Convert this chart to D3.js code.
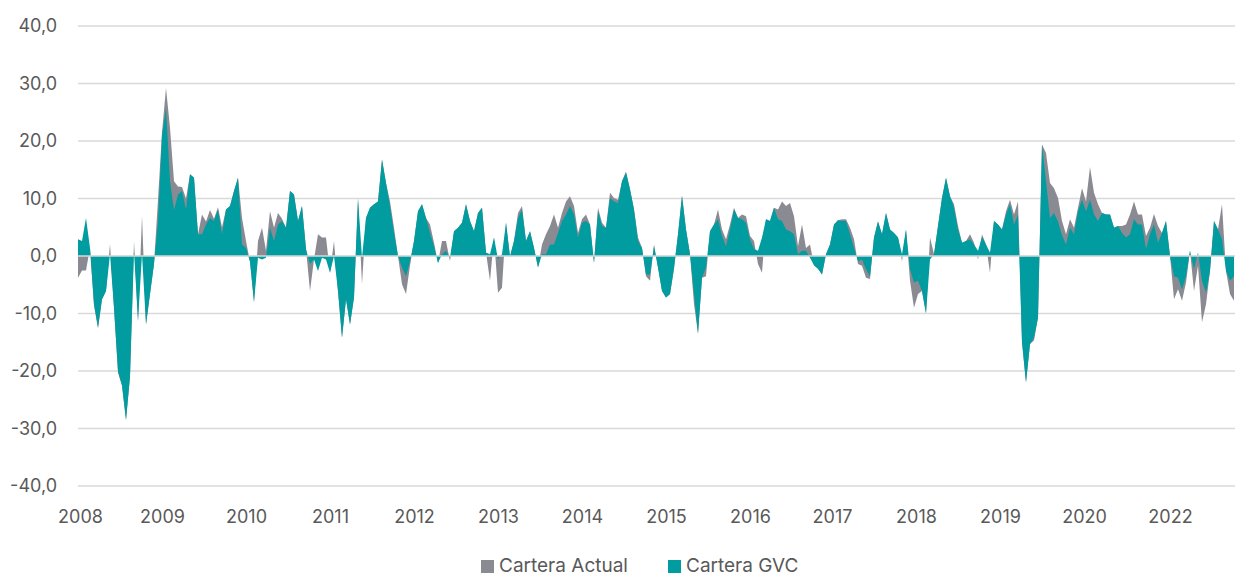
<!DOCTYPE html>
<html>
<head>
<meta charset="utf-8">
<script src="https://cdn.jsdelivr.net/npm/d3@7"></script>
<style>
  body { margin: 0; background: #ffffff; }
  svg { display: block; }
  text { font-family: Inter, "Open Sans", Lato, sans-serif; }
</style>
</head>
<body>
<svg id="chart" width="1235" height="577"></svg>
<script>
// Year labels on the horizontal axis and the observation each one sits on
const yearLabels = ["2008","2009","2010","2011","2012","2013","2014","2015","2016","2017","2018","2019","2020","2022"];
const yearIndex  = [0.5, 21, 42, 63, 84, 105, 126, 147, 168, 188.5, 209.5, 230.5, 251.5, 273];

// Value ticks
const yTicks = [-40, -30, -20, -10, 0, 10, 20, 30, 40];

// Series names
const seriesNames = ["Cartera Actual", "Cartera GVC"];

// Cartera GVC (teal)
const carteraGVC = [
  2.9,2.6,6.6,1.4,-8.4,-12.4,-7.5,-6.1,0.3,-9,-20,-22.5,-28.5,-21,0.8,-11.3,0.3,-11.9,-6.6,-1.4,6,21,25.7,13,
  8,10.7,11.3,8.1,14.2,13.6,3.8,3.8,5.5,6.6,6.1,8.1,3.8,8.1,8.7,11.3,13.6,2,1.4,-1,-8,-0.3,-0.6,-0.3,4.9,
  2.6,5.5,6.1,4.9,11.3,10.7,6.1,8.7,1.2,-1.4,-0.6,-2.6,-0.3,-0.6,-2.9,0,-6.1,-14.2,-7.5,-11.9,-7.2,10,-0.3,6.6,
  8.4,9,9.5,16.8,12.7,8.7,4,0,-2,-3.5,-0.9,2.6,7.8,9,6.6,4,1.7,-1.2,0.3,0.9,-0.3,4.3,4.9,5.8,9,
  6.1,4.3,7.5,8.4,0.6,0.3,3.2,-0.6,0.3,5.8,0,2.6,6.6,8.1,2.6,4.3,1.4,-2,0.3,0.3,2,2,4,6.1,
  7.2,8.7,7.2,3.2,5.8,6.1,5.5,-1.2,7.8,5.2,4.9,10.1,9.5,9.2,13,14.5,11.6,8.1,2.6,1.4,-3.2,-3.2,1.7,-2,
  -6.1,-7.2,-6.6,-2,3.8,10.5,4.6,0.3,-6.6,-13.5,-3.8,-2,4.3,5.5,6.4,3.5,1.7,4.6,8.1,6.6,6.4,5.8,2.9,1.2,
  0.9,3.2,6.4,6.1,8.4,6.4,6.1,4.6,4.3,3.8,0.3,0.9,0.9,-0.3,-1.6,-2.2,-3.2,0.3,2,5.5,6.2,6.1,6.1,3.8,
  1.4,-0.9,-0.6,-2.3,-3.5,3.2,6,3.8,7.5,4.6,4,3.2,0.3,4.6,-2.3,-4.6,-4.3,-6.1,-10,-0.6,0.3,5.2,10.1,13.6,10.4,
  8.4,4.6,2.3,2.6,2.9,2,0.9,3.3,2,0.6,6.1,5.5,4.6,7.2,9,5.5,7.2,-15,-22,-15.3,-14.2,-10.7,19.4,13,
  6.6,7.5,6,3.6,2,4.9,3.8,7.8,9.8,7.8,9.8,7.2,6.1,7.5,7.2,7.2,4.9,5.2,4,3.2,3.8,6.4,5.5,5.5,
  1.2,3.8,5.5,2.3,4,6.1,0,-3.5,-3.8,-5.8,-3.5,0.9,-2.3,0.6,-4.3,-6.4,-2.6,6.1,4.6,2.9,-2.6,-4.3,-3.5
];

// Cartera Actual (grey)
const carteraActual = [
  -3.8,-2.5,-2.5,1.4,-8.6,-12.6,-7.5,-6.1,2.1,-9,-20.3,-22.5,-28.5,-21,2.6,-11.3,7,-11.9,-6.6,-1.4,9.8,21.5,29.2,22.3,
  13,12.1,12,10,14.2,13.6,3.8,7.2,6,8,6.5,8.5,5,8.1,8.7,11.3,13.6,6.6,2.6,-1,-8,2.6,4.9,0.9,7.8,
  4.9,7.5,6.5,4.9,11.3,10.7,6.1,8.7,1.2,-6.1,-0.6,3.8,3.2,3.2,-2.9,2.6,-6.1,-14.2,-7.5,-11.9,-7.2,10,-4.9,6.6,
  8.4,9,9.5,16.8,12.7,9.5,4.9,0,-4.9,-6.6,-1.7,2.6,7.8,9,6.6,5.5,2.3,-1.2,2.6,2.6,-0.9,4.3,4.9,5.8,9,
  6.1,4.3,7.5,8.4,0.6,-4.3,3.2,-6.4,-5.5,5.8,-0.3,2.6,7.5,8.7,2.6,4.3,1.4,-2,2,3.8,5.2,7.2,4.9,7.5,
  9.5,10.4,8.7,4,6.4,7.2,5.5,-1.2,8.4,5.8,4.9,11,10.1,9.8,13,14.7,11.6,8.1,3.2,1.4,-3.5,-4.3,2,-2,
  -6.1,-7.2,-6.6,-2.3,3.8,10.5,4.6,0.3,-8.4,-13.5,-3.8,-3.5,4.3,5.5,8.1,4.6,2.9,5.5,8.4,6.6,7.2,6.9,3.5,2.6,
  -1.4,-2.9,6.4,6.1,8.4,8.1,9.5,8.7,9.2,6.9,1.7,5.5,1.4,2,-1.6,-2.2,-3.2,0.3,2,5.5,6.2,6.4,6.4,4.9,
  2.9,-1.4,-1.7,-3.8,-4,3.2,6,3.8,7.5,4.6,4,3.2,-0.9,4.6,-4.3,-9,-6.6,-6.1,-10,3.2,0.3,5.2,10.1,13.6,10.4,
  9,5.2,2.3,2.6,3.8,2.3,-0.6,3.8,2,-2.9,6.1,5.5,4.6,7.8,9.8,7.2,9.5,-15,-22,-15.3,-14.7,-10.7,19.4,17.9,
  12.7,11.8,10.1,6.1,3.8,6.4,4.9,8.4,11.8,9.5,15.5,11,9,7.5,7.2,7.2,4.9,5.2,5.2,5.5,7.2,9.5,7.2,7.2,
  3.5,4.9,7.3,5.2,4,6.1,0,-7.5,-5.8,-7.8,-4.6,0.9,-6.1,-1.7,-11.5,-8.4,-2.6,6.1,4.6,9,-2.6,-6.6,-7.8
];

const colors = { actual: "#8a8a93", gvc: "#009ca0", grid: "#d9d9d9", text: "#595959" };

const svg = d3.select("#chart");
const W = 1235, H = 577;
const margin = { left: 78, right: 1, top: 26, bottom: 91 };

const n = carteraGVC.length;
const x = d3.scaleLinear().domain([0, n - 1]).range([margin.left, W - margin.right]);
const y = d3.scaleLinear().domain([-40, 40]).range([H - margin.bottom, margin.top]);

const locale = d3.formatLocale({ decimal: ",", thousands: ".", grouping: [3], currency: ["", "€"], minus: "-" });
const fmt = locale.format(".1f");

// Horizontal gridlines
svg.append("g")
  .selectAll("line")
  .data(yTicks)
  .join("line")
  .attr("x1", margin.left)
  .attr("x2", W)
  .attr("y1", d => y(d))
  .attr("y2", d => y(d))
  .attr("stroke", colors.grid)
  .attr("stroke-width", 1.3);

// Value axis labels
const yAxis = d3.axisLeft(y).tickValues(yTicks).tickFormat(fmt).tickSize(0).tickPadding(21);
const gy = svg.append("g").attr("transform", `translate(${margin.left},0)`).call(yAxis);
gy.select(".domain").remove();
gy.selectAll("text")
  .attr("font-size", 18)
  .attr("fill", colors.text)
  .style("font-family", "Inter, 'Open Sans', sans-serif");

// Areas: Cartera Actual behind, Cartera GVC in front
const area = d3.area()
  .x((d, i) => x(i))
  .y0(y(0))
  .y1(d => y(d));

svg.append("path")
  .datum(carteraActual)
  .attr("d", area)
  .attr("fill", colors.actual);

svg.append("path")
  .datum(carteraGVC)
  .attr("d", area)
  .attr("fill", colors.gvc);

// Zero line on top of the areas
svg.append("line")
  .attr("x1", margin.left).attr("x2", W)
  .attr("y1", y(0)).attr("y2", y(0))
  .attr("stroke", colors.grid)
  .attr("stroke-width", 1.3);

// Year labels
const xAxis = d3.axisBottom(x)
  .tickValues(yearIndex)
  .tickFormat((d, i) => yearLabels[i])
  .tickSize(0)
  .tickPadding(24);
const gx = svg.append("g").attr("transform", `translate(0,${y(-40)})`).call(xAxis);
gx.select(".domain").remove();
gx.selectAll("text")
  .attr("font-size", 18)
  .attr("fill", colors.text)
  .style("font-family", "Inter, 'Open Sans', sans-serif");

// Legend
const legendItems = [
  { name: seriesNames[0], color: colors.actual, x: 481 },
  { name: seriesNames[1], color: colors.gvc, x: 668 }
];
const lg = svg.append("g");
legendItems.forEach(it => {
  lg.append("rect")
    .attr("x", it.x).attr("y", 560)
    .attr("width", 13).attr("height", 13)
    .attr("fill", it.color);
  lg.append("text")
    .attr("x", it.x + 18).attr("y", 572)
    .attr("font-size", 19)
    .attr("fill", colors.text)
    .text(it.name);
});
</script>
</body>
</html>
